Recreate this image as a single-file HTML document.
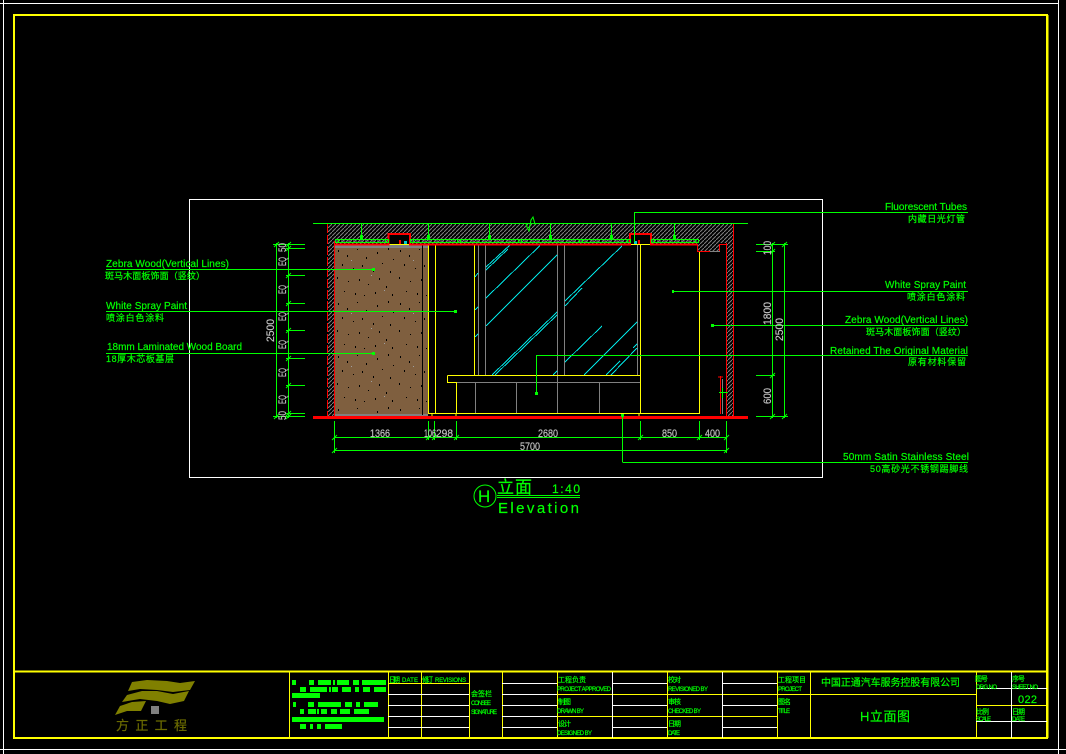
<!DOCTYPE html>
<html><head><meta charset="utf-8"><style>
html,body{margin:0;padding:0;background:#000;width:1066px;height:754px;overflow:hidden}
svg{display:block}
text{font-family:"Liberation Sans","WenQuanYi Zen Hei","Noto Sans CJK SC",sans-serif;fill:#00ff00;stroke:#00ff00;stroke-width:.2}
.d{fill:#c0c0c0;stroke:#c0c0c0;font-size:11px}
.l{font-size:10px}
.s{font-size:6px}
.c{font-size:9px}
</style></head><body>
<svg width="1066" height="754" viewBox="0 0 1066 754" xmlns="http://www.w3.org/2000/svg">
<defs>
<pattern id="h" patternUnits="userSpaceOnUse" width="4" height="4"><path d="M0 4L4 0" stroke="#808080" stroke-width="1" fill="none"/></pattern>
<pattern id="sp" patternUnits="userSpaceOnUse" width="62" height="53" x="335" y="246">
<rect width="62" height="53" fill="#7f5f3f"/>
<g fill="#000"><rect x="3" y="4" width="1" height="2"/><rect x="12" y="9" width="1" height="2"/><rect x="22" y="3" width="1" height="1"/><rect x="31" y="11" width="1" height="2"/><rect x="42" y="6" width="1" height="2"/><rect x="53" y="2" width="1" height="2"/><rect x="58" y="13" width="1" height="1"/><rect x="7" y="18" width="1" height="2"/><rect x="18" y="22" width="1" height="1"/><rect x="27" y="19" width="1" height="2"/><rect x="38" y="24" width="1" height="2"/><rect x="47" y="17" width="1" height="1"/><rect x="55" y="25" width="1" height="2"/><rect x="2" y="31" width="1" height="2"/><rect x="13" y="35" width="1" height="1"/><rect x="24" y="33" width="1" height="2"/><rect x="33" y="38" width="1" height="1"/><rect x="44" y="32" width="1" height="2"/><rect x="51" y="40" width="1" height="2"/><rect x="9" y="45" width="1" height="1"/><rect x="20" y="47" width="1" height="2"/><rect x="29" y="49" width="1" height="1"/><rect x="40" y="46" width="1" height="2"/><rect x="57" y="48" width="1" height="2"/></g>
<g fill="#a0a0a0"><rect x="16" y="14" width="1" height="1"/><rect x="36" y="29" width="1" height="1"/><rect x="49" y="44" width="1" height="1"/></g>
</pattern>
</defs>
<g shape-rendering="crispEdges" fill="none">
<!-- outer sheet -->
<path d="M0 3.5H1059M3.5 0V754M1058.5 0V754M0 749.5H1066" stroke="#fff"/>
<rect x="14" y="15" width="1033" height="723" stroke="#ffff00" stroke-width="2"/>
<path d="M1047.5 15V738" stroke="#ffff00" stroke-width="2"/>
<rect x="189.5" y="199.5" width="633" height="278" stroke="#fff"/>
<!-- concrete -->
<path d="M328 224H734V244H726V243H719V251H697V244H651V234H630V244H410V234H388V244H334V416H328Z" fill="url(#h)"/>
<path d="M727 243H733V416H727Z" fill="url(#h)"/>
<!-- brown -->
<rect x="335" y="246" width="93" height="170" fill="url(#sp)"/>
<rect x="335" y="245" width="93" height="3" fill="#808080"/>
<rect x="335" y="414" width="93" height="2" fill="#808080"/>
<path d="M422.5 245V415" stroke="#000"/>
<!-- gray -->
<path d="M478.5 244V375M485.5 244V375M557.5 244V413M564.5 244V375M637.5 244V375M457 382.5H640M475.5 382V413M516.5 382V413M599.5 382V413M697.5 244V251.5M710 251.5H720M722.5 379V414" stroke="#808080"/>
<path d="M335 241H388M410 241H630M651 241H697" stroke="#808080" stroke-dasharray="4 2"/>
<!-- yellow -->
<path d="M428.5 244V414M435.5 244V414M474.5 244V375M640.5 244V414M699.5 251V414M447.5 375.5H640M447.5 375.5V382.5H457M456.5 382V414M428 413.5H700M388 244.5H410M630 244.5H651" stroke="#ffff00"/>
<path d="M432 413V416M456 413V416M639 413V416" stroke="#ffff00"/>
</g>
<!-- cyan -->
<g fill="none" stroke="#00e5e5" stroke-width="1" shape-rendering="crispEdges">
<path d="M486 267L510 245M486 270L508 249M486 298L540 245.5M486 326L557 255M492 375L557 312M495 375L557 315M565 301L622 246M565 306L582 288M565 362L602 326M584 375L637 322M606 375L620 361M611 375L637 348M633 348L637 344M553 375L557 371M475 277L478 273M475 310L478 307M475 337L478 334"/>
</g>
<g shape-rendering="crispEdges" fill="none">
<!-- red -->
<path d="M334.5 241V416M726.5 243V416M733.5 224V416" stroke="#ff0000"/>
<path d="M327.5 224V416" stroke="#ff0000" stroke-dasharray="9 2"/>
<path d="M334 244.5H388.5V234H410V244.5H630V234H651V244.5H697" stroke="#ff0000" stroke-width="2"/>
<path d="M697.5 244V251.5H710M719.5 251V244.5H726" stroke="#ff0000"/>
<path d="M720.5 376V414M718 377H723" stroke="#ff0000"/>
<rect x="313" y="416" width="435" height="3" fill="#ff0000"/>
<rect x="399" y="240" width="2" height="4" fill="#ff0000"/><rect x="638" y="240" width="2" height="4" fill="#ff0000"/>
<rect x="404" y="241" width="3" height="3" fill="#00d0d0"/><rect x="634" y="241" width="3" height="3" fill="#00d0d0"/>
<!-- green top -->
<path d="M313 223.5H748" stroke="#00ff00"/>
<path d="M335 239.5H388M410 239.5H630M651 239.5H697M335 242.5H388M410 242.5H630M651 242.5H697" stroke="#00ff00"/>
<path d="M361.5 224V240M428.5 224V240M489.5 224V240M550.5 224V240M611.5 224V240M674.5 224V240" stroke="#00ff00"/>
<g fill="#00ff00">
<rect x="360" y="235" width="3" height="5"/><rect x="427" y="235" width="3" height="5"/><rect x="488" y="235" width="3" height="5"/><rect x="549" y="235" width="3" height="5"/><rect x="610" y="235" width="3" height="5"/><rect x="673" y="235" width="3" height="5"/>
</g>
<g stroke="#00ff00"><rect x="335.5" y="239.5" width="3" height="3"/><rect x="385.5" y="239.5" width="3" height="3"/><rect x="410.5" y="239.5" width="3" height="3"/><rect x="457.5" y="239.5" width="3" height="3"/><rect x="518.5" y="239.5" width="3" height="3"/><rect x="579.5" y="239.5" width="3" height="3"/><rect x="627.5" y="239.5" width="3" height="3"/><rect x="651.5" y="239.5" width="3" height="3"/><rect x="695.5" y="239.5" width="3" height="3"/></g>
</g>
<path d="M526 223.5L527 227L529 231L531 220L533 217L535 224L537 223.5" fill="none" stroke="#00ff00"/>
<g shape-rendering="crispEdges" fill="none" stroke="#00ff00">
<!-- left dims -->
<path d="M276.5 243V418M288.5 243V418M273 244.5H305M286 248.5H305M286 275.5H305M286 303.5H305M286 330.5H305M286 358.5H305M286 385.5H305M286 413.5H305M273 416.5H305"/>
<!-- right dims -->
<path d="M772.5 243V418M784.5 243V418M756 244.5H788M756 251.5H775M756 375.5H775M756 416.5H788"/>
<!-- bottom dims -->
<path d="M334 437.5H727M334 450.5H727M334.5 421V453M428.5 421V440M434.5 421V440M456.5 421V440M640.5 421V440M699.5 421V440M726.5 421V453"/>
<!-- leaders -->
<path d="M106 269.5H374M106 311.5H456M106 353.5H374"/>
<path d="M634.5 212.5H968M634.5 212V242M673 291.5H968M712 325.5H968M536.5 355.5H968M536.5 355V393M622.5 462.5H968M622.5 415V462"/>
<path d="M719 392.5H728M722.5 388V398" />
<path d="M497 495.5H580M497 497.5H580"/>
<!-- title block -->
<path d="M15 671.5H1047" stroke="#ffff00" stroke-width="2"/>
<path d="M289.5 672V738M388.5 672V738M421.5 672V738M469.5 672V738M502.5 672V738M557.5 672V738M667.5 672V738M777.5 672V738M810.5 672V738M976.5 672V738M388 683.5H469M557 694.5H777M557 716.5H777M777 694.5H976M976 705.5H1047" stroke="#ffff00"/>
<path d="M388 694.5H469M388 705.5H469M388 716.5H469M388 727.5H469M502 683.5H557M502 694.5H557M502 705.5H557M502 716.5H557M502 727.5H557M612.5 672V738M722.5 672V738M612 683.5H667M612 705.5H667M612 727.5H667M722 683.5H777M722 705.5H777M722 727.5H777M976 688.5H1047M976 721.5H1047M1011.5 672V738" stroke="#fff"/>
<!-- bars -->
<g fill="#00ff00" stroke="none">
<rect x="292" y="680" width="4" height="5"/><rect x="309" y="680" width="5" height="5"/><rect x="318" y="680" width="13" height="5"/><rect x="333" y="680" width="2" height="5"/><rect x="337" y="680" width="12" height="5"/><rect x="353" y="680" width="6" height="5"/><rect x="362" y="680" width="24" height="5"/>
<rect x="300" y="687" width="6" height="5"/><rect x="310" y="687" width="17" height="5"/><rect x="329" y="687" width="2" height="5"/><rect x="332" y="687" width="6" height="5"/><rect x="342" y="687" width="9" height="5"/><rect x="355" y="687" width="4" height="5"/><rect x="363" y="687" width="7" height="5"/><rect x="374" y="687" width="12" height="5"/>
<rect x="292" y="693" width="28" height="5"/>
<rect x="293" y="702" width="3" height="5"/><rect x="308" y="702" width="6" height="5"/><rect x="318" y="702" width="23" height="5"/><rect x="345" y="702" width="7" height="5"/><rect x="356" y="702" width="4" height="5"/><rect x="364" y="702" width="14" height="5"/>
<rect x="300" y="709" width="4" height="5"/><rect x="308" y="709" width="8" height="5"/><rect x="317" y="709" width="2" height="5"/><rect x="321" y="709" width="6" height="5"/><rect x="331" y="709" width="6" height="5"/><rect x="340" y="709" width="10" height="5"/><rect x="354" y="709" width="15" height="5"/>
<rect x="292" y="717" width="92" height="5"/>
<rect x="300" y="724" width="6" height="5"/><rect x="310" y="724" width="3" height="5"/><rect x="317" y="724" width="4" height="5"/><rect x="325" y="724" width="17" height="5"/>
</g>
<rect x="151" y="706" width="8" height="8" fill="#808080" stroke="none"/>
</g>
<!-- leader end squares -->
<g fill="#00ff00">
<rect x="372" y="268" width="3" height="3"/><rect x="454" y="310" width="3" height="3"/><rect x="372" y="352" width="3" height="3"/>
<rect x="672" y="290" width="2" height="3"/><rect x="711" y="324" width="3" height="3"/><rect x="535" y="392" width="3" height="3"/><rect x="621" y="414" width="3" height="3"/>
</g>
<!-- dim ticks -->
<g stroke="#00ff00" fill="none">
<path d="M274 247L279 242M286 247L291 242M286 251L291 246M286 278L291 273M286 306L291 301M286 333L291 328M286 361L291 356M286 388L291 383M286 416L291 411M274 419L279 414M286 419L291 414"/>
<path d="M770 247L775 242M782 247L787 242M770 254L775 249M770 378L775 373M770 419L775 414M782 419L787 414"/>
<path d="M332 440L337 435M332 453L337 448M426 440L431 435M432 440L437 435M454 440L459 435M638 440L643 435M697 440L702 435M724 440L729 435M724 453L729 448"/>
</g>
<!-- logo -->
<g fill="#808000">
<polygon points="128,691 132,682 147,680 167,681 180,683 195,681 190,690 173,692 157,690 140,689"/>
<polygon points="122,702 127,695 142,691 157,691 173,694 189,691 184,701 170,704 157,701 140,699"/>
<polygon points="115,715 120,706 132,702 146,701 141,711 127,711"/>
</g>
<text x="116" y="730" font-size="13" textLength="71" lengthAdjust="spacing" style="fill:#6b6b00;stroke:#6b6b00">方正工程</text>
<!-- dim text -->
<g>
<text class="d" transform="translate(286,266) rotate(-90)" textLength="9" lengthAdjust="spacingAndGlyphs">EQ</text>
<text class="d" transform="translate(286,294) rotate(-90)" textLength="9" lengthAdjust="spacingAndGlyphs">EQ</text>
<text class="d" transform="translate(286,321) rotate(-90)" textLength="9" lengthAdjust="spacingAndGlyphs">EQ</text>
<text class="d" transform="translate(286,349) rotate(-90)" textLength="9" lengthAdjust="spacingAndGlyphs">EQ</text>
<text class="d" transform="translate(286,377) rotate(-90)" textLength="9" lengthAdjust="spacingAndGlyphs">EQ</text>
<text class="d" transform="translate(286,404) rotate(-90)" textLength="9" lengthAdjust="spacingAndGlyphs">EQ</text>
<text class="d" transform="translate(286,252) rotate(-90)" textLength="9" lengthAdjust="spacingAndGlyphs">50</text>
<text class="d" transform="translate(286,420) rotate(-90)" textLength="9" lengthAdjust="spacingAndGlyphs">50</text>
<text class="d" transform="translate(274,342) rotate(-90)" textLength="23" lengthAdjust="spacingAndGlyphs">2500</text>
<text class="d" transform="translate(771,255) rotate(-90)" textLength="14" lengthAdjust="spacingAndGlyphs">100</text>
<text class="d" transform="translate(771,325) rotate(-90)" textLength="23" lengthAdjust="spacingAndGlyphs">1800</text>
<text class="d" transform="translate(771,404) rotate(-90)" textLength="16" lengthAdjust="spacingAndGlyphs">600</text>
<text class="d" transform="translate(783,341) rotate(-90)" textLength="23" lengthAdjust="spacingAndGlyphs">2500</text>
<text class="d" x="370" y="437" textLength="20" lengthAdjust="spacingAndGlyphs">1366</text>
<text class="d" x="424" y="437" textLength="12" lengthAdjust="spacingAndGlyphs">106</text>
<text class="d" x="436" y="437" textLength="17" lengthAdjust="spacingAndGlyphs">298</text>
<text class="d" x="538" y="437" textLength="20" lengthAdjust="spacingAndGlyphs">2680</text>
<text class="d" x="662" y="437" textLength="15" lengthAdjust="spacingAndGlyphs">850</text>
<text class="d" x="705" y="437" textLength="15" lengthAdjust="spacingAndGlyphs">400</text>
<text class="d" x="520" y="450" textLength="20" lengthAdjust="spacingAndGlyphs">5700</text>
</g>
<!-- left labels -->
<text class="l" x="106" y="267" textLength="123">Zebra Wood(Vertical Lines)</text>
<text class="c" x="105" y="279" textLength="100">斑马木面板饰面（竖纹）</text>
<text class="l" x="106" y="309" textLength="81">White Spray Paint</text>
<text class="c" x="106" y="321" textLength="58">喷涂白色涂料</text>
<text class="l" x="107" y="350" textLength="135">18mm Laminated Wood Board</text>
<text class="c" x="106" y="362" textLength="68">18厚木芯板基层</text>
<!-- right labels -->
<text class="l" x="885" y="210" textLength="82">Fluorescent Tubes</text>
<text class="c" x="908" y="222" textLength="57">内藏日光灯管</text>
<text class="l" x="885" y="288" textLength="81">White Spray Paint</text>
<text class="c" x="907" y="300" textLength="58">喷涂白色涂料</text>
<text class="l" x="845" y="323" textLength="123">Zebra Wood(Vertical Lines)</text>
<text class="c" x="866" y="335" textLength="100">斑马木面板饰面（竖纹）</text>
<text class="l" x="830" y="354" textLength="138">Retained The Original Material</text>
<text class="c" x="908" y="365" textLength="58">原有材料保留</text>
<text class="l" x="843" y="460" textLength="126">50mm Satin Stainless Steel</text>
<text class="c" x="870" y="472" textLength="98">50高砂光不锈钢踢脚线</text>
<!-- title -->
<circle cx="485" cy="496" r="11" fill="none" stroke="#00ff00"/>
<text x="478" y="502" font-size="17">H</text>
<text x="497" y="493" font-size="17" textLength="35">立面</text>
<text x="552" y="493" font-size="12" textLength="28">1:40</text>
<text x="498" y="513" font-size="15" textLength="81">Elevation</text>
<!-- title block text -->
<g>
<text class="c" x="389" y="682" style="font-size:7px" textLength="11">日期</text><text class="s" x="402" y="682" textLength="16">DATE</text>
<text class="c" x="422" y="682" style="font-size:7px" textLength="11">修订</text><text class="s" x="435" y="682" textLength="31">REVISIONS</text>
<text class="c" x="471" y="696" style="font-size:7px" textLength="21">会签栏</text>
<text class="s" x="471" y="705" textLength="20">CONSEE</text>
<text class="s" x="471" y="714" textLength="26">SIGNATURE</text>
<text class="c" x="558" y="682" style="font-size:7px" textLength="28">工程负责</text>
<text class="s" x="557" y="691" textLength="54">PROJECT APPROVED</text>
<text class="c" x="558" y="704" style="font-size:7px" textLength="13">制图</text>
<text class="s" x="557" y="713" textLength="27">DRAWN BY</text>
<text class="c" x="558" y="726" style="font-size:7px" textLength="13">设计</text>
<text class="s" x="557" y="735" textLength="35">DESIGNED BY</text>
<text class="c" x="668" y="682" style="font-size:7px" textLength="13">校对</text>
<text class="s" x="668" y="691" textLength="40">REVISIONED BY</text>
<text class="c" x="668" y="704" style="font-size:7px" textLength="13">审核</text>
<text class="s" x="668" y="713" textLength="33">CHECKED BY</text>
<text class="c" x="668" y="726" style="font-size:7px" textLength="13">日期</text>
<text class="s" x="668" y="735" textLength="12">DATE</text>
<text class="c" x="778" y="682" style="font-size:7px" textLength="28">工程项目</text>
<text class="s" x="778" y="691" textLength="24">PROJECT</text>
<text class="c" x="778" y="704" style="font-size:7px" textLength="13">图名</text>
<text class="s" x="778" y="713" textLength="12">TITLE</text>
<text x="821" y="686" font-size="10" textLength="139">中国正通汽车服务控股有限公司</text>
<text x="860" y="721" font-size="13" textLength="50">H立面图</text>
<text class="c" x="975" y="681" style="font-size:7px" textLength="13">图号</text>
<text class="s" x="976" y="689" textLength="21">DRG NO</text>
<text class="c" x="1012" y="681" style="font-size:7px" textLength="13">序号</text>
<text class="s" x="1012" y="689" textLength="26">SHEET NO</text>
<text x="1018" y="703" font-size="11" textLength="19">022</text>
<text class="c" x="976" y="714" style="font-size:7px" textLength="13">比例</text>
<text class="s" x="976" y="721" textLength="15">SCALE</text>
<text class="c" x="1012" y="714" style="font-size:7px" textLength="13">日期</text>
<text class="s" x="1012" y="721" textLength="13">DATE</text>
</g>
</svg>
</body></html>
